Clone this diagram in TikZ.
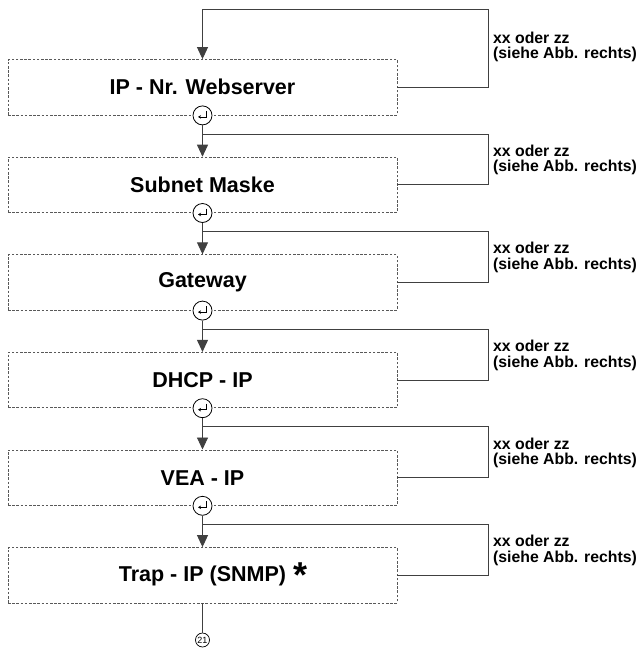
\documentclass[tikz,border=0pt]{standalone}
\usepackage{fontspec}
\setmainfont{Liberation Sans}
\usetikzlibrary{arrows.meta,calc}
\begin{document}
\begin{tikzpicture}[x=1pt,y=-1pt,
  stepbox/.style={draw=black!65, dash pattern=on 2.6pt off 1.6pt, line width=0.8pt,
    minimum width=389pt, minimum height=55.5pt, inner sep=0pt,
    font=\bfseries\fontsize{21.5}{26}\selectfont},
  conn/.style={draw=black!75, line width=0.9pt},
  arr/.style={conn, -{Triangle[length=12pt,width=11pt]}},
  rcirc/.style={circle, draw=black, line width=0.8pt, fill=white, minimum size=19pt, inner sep=0pt},
  rsym/.style={draw=black, line width=0.8pt, -{Stealth[length=3pt,width=3.5pt]}},
  lbl/.style={anchor=west, align=left, inner sep=0pt,
    font=\bfseries\fontsize{15.8}{15.5}\selectfont}]
\useasboundingbox (0,0) rectangle (641,649);

% boxes
\node[stepbox] (b0) at (202.5, 87.25) {IP - Nr. Webserver};
\node[stepbox] (b1) at (202.5,184.85) {Subnet Maske};
\node[stepbox] (b2) at (202.5,282.45) {Gateway};
\node[stepbox] (b3) at (202.5,380.05) {DHCP - IP};
\node[stepbox] (b4) at (202.5,477.65) {VEA - IP};
\node[stepbox] (b5) at (202.5,575.25) {Trap - IP (SNMP)\rlap{\hspace{7pt}\raisebox{-6pt}{\fontsize{36}{36}\selectfont *}}};

% return circles
\foreach \i in {0,...,4}{
  \node[rcirc] (r\i) at (b\i.south) {};
  \draw[rsym] ([shift={(3.5,-4.5)}]r\i.center) -- ++(0,6) -- ++(-8,0);
}

% junctions and loop corners
\coordinate (j0) at (202.5,9);
\coordinate (k0) at (488,9);
\coordinate (j1) at (202.5,134);
\coordinate (k1) at (488,134);
\coordinate (j2) at (202.5,231.6);
\coordinate (k2) at (488,231.6);
\coordinate (j3) at (202.5,329.2);
\coordinate (k3) at (488,329.2);
\coordinate (j4) at (202.5,426.8);
\coordinate (k4) at (488,426.8);
\coordinate (j5) at (202.5,524.4);
\coordinate (k5) at (488,524.4);

% top entry
\draw[arr] (j0) -- (b0.north);
\draw[conn] (j0) -- (k0) |- (b0.east);

% downward arrows and loops
\draw[arr] (r0.south) -- (b1.north);
\draw[conn] (j1) -- (k1) |- (b1.east);
\draw[arr] (r1.south) -- (b2.north);
\draw[conn] (j2) -- (k2) |- (b2.east);
\draw[arr] (r2.south) -- (b3.north);
\draw[conn] (j3) -- (k3) |- (b3.east);
\draw[arr] (r3.south) -- (b4.north);
\draw[conn] (j4) -- (k4) |- (b4.east);
\draw[arr] (r4.south) -- (b5.north);
\draw[conn] (j5) -- (k5) |- (b5.east);

% labels
\node[lbl] (t0) at (493, 47) {xx oder zz\\(siehe Abb. rechts)};
\node[lbl] (t1) at (493,160) {xx oder zz\\(siehe Abb. rechts)};
\node[lbl] (t2) at (493,257.6) {xx oder zz\\(siehe Abb. rechts)};
\node[lbl] (t3) at (493,355.2) {xx oder zz\\(siehe Abb. rechts)};
\node[lbl] (t4) at (493,452.8) {xx oder zz\\(siehe Abb. rechts)};
\node[lbl] (t5) at (493,550.4) {xx oder zz\\(siehe Abb. rechts)};

% continuation
\node[circle, draw=black, line width=0.7pt, minimum size=14pt, inner sep=0pt,
  font=\fontsize{9}{9}\selectfont] (n21) at (202.5,640) {21};
\draw[conn] (b5.south) -- (n21.north);
\end{tikzpicture}
\end{document}
